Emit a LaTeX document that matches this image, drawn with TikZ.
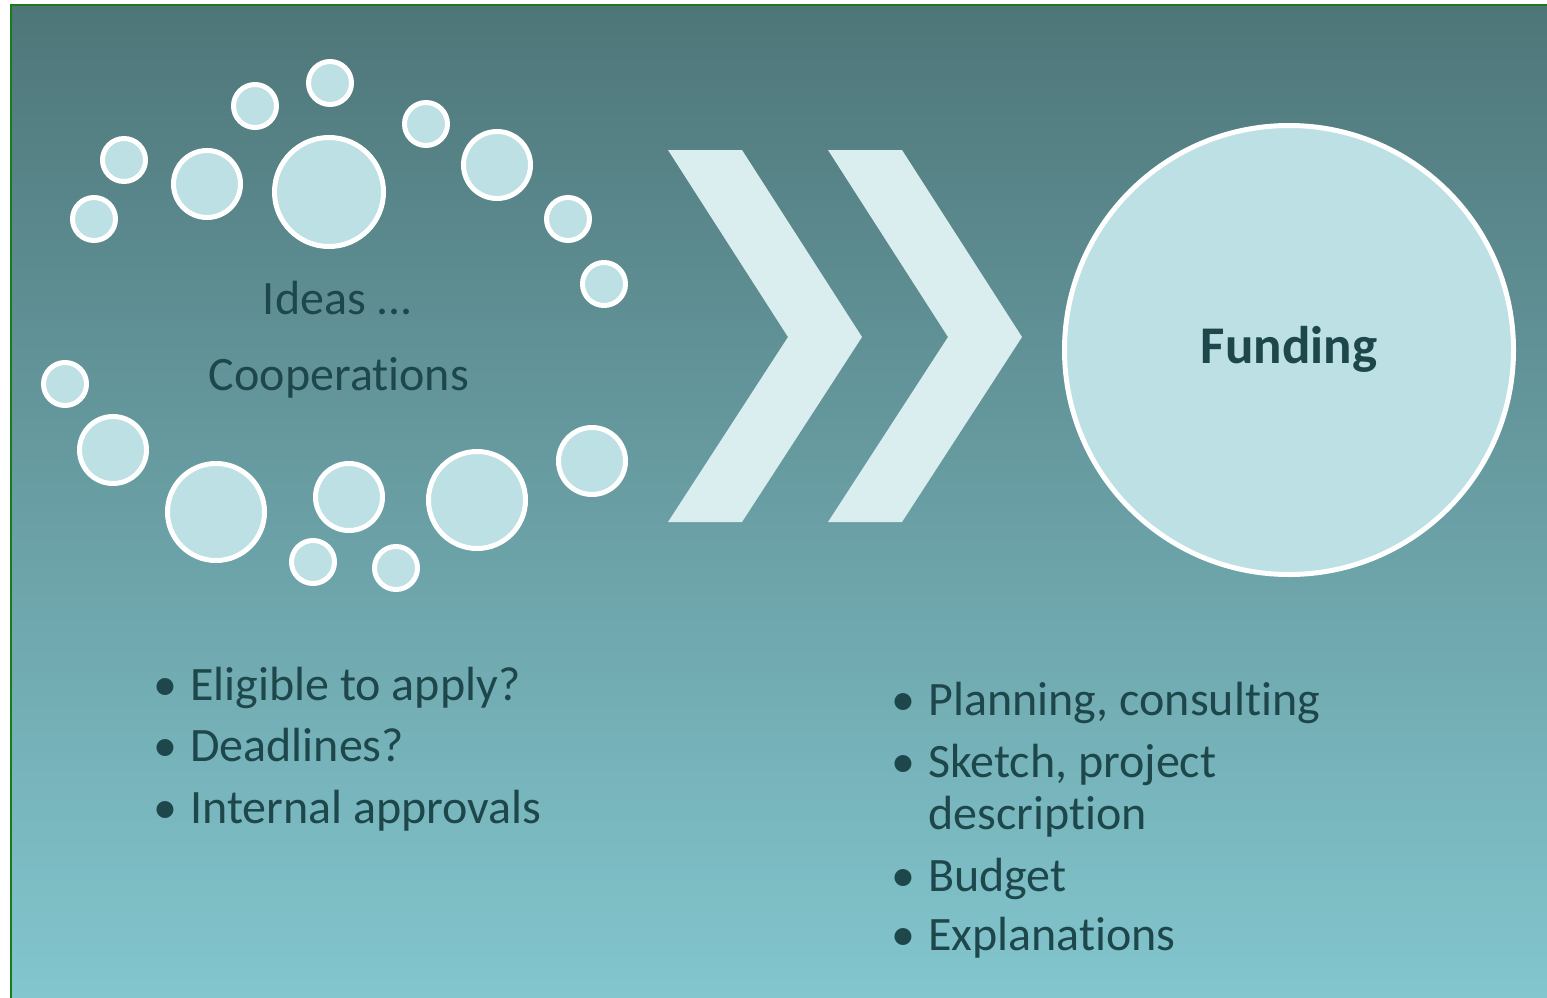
\documentclass[tikz,border=0pt]{standalone}
\usepackage{fontspec}
\setmainfont{Carlito}[Ligatures=NoCommon]
\definecolor{bgtop}{HTML}{4E7679}
\definecolor{bgbot}{HTML}{83C6CE}
\definecolor{bubblefill}{HTML}{BCE0E3}
\definecolor{chevfill}{HTML}{DAEDEF}
\definecolor{textdk}{HTML}{1E474B}
\definecolor{framegreen}{HTML}{1B7A1B}

\tikzset{
  bubble/.style={circle, draw=white, line width=5pt, fill=bubblefill, inner sep=0pt},
  listtxt/.style={anchor=base west, inner sep=0pt, text=textdk, font=\fontsize{48}{56}\selectfont},
  listdot/.style={anchor=base, inner sep=0pt, text=textdk, font=\fontsize{48}{56}\selectfont},
}

\begin{document}
\begin{tikzpicture}[x=1pt,y=-1pt]
  \useasboundingbox (0,0) rectangle (1547,998);

  % Background panel with its green frame
  \fill[white] (0,0) rectangle (1547,998);
  \shade[top color=bgtop, bottom color=bgbot] (11,5) rectangle (1547,998);
  \draw[framegreen, line width=2pt] (11,998) -- (11,5) -- (1547,5);

  % Bubbles around the ideas
  \foreach \x/\y/\r [count=\i] in {330/83/24, 255/106/24, 426/124/24, 124/160/24,
      207/184/36, 329/192/57, 497/165/36, 94/219/24, 568/219/24, 604/284/24,
      65/384/24, 113/450/36, 216/512/51, 349/497/36, 477/500/51, 592/461/36,
      313/562/24, 396/568/24} {
    \node[bubble, minimum size={2*\r-5}] (b\i) at (\x,\y) {};
  }

  % Ideas text
  \node[anchor=base, inner sep=0pt, text=textdk, font=\fontsize{48}{56}\selectfont] (ideas) at (338,314) {Ideas ...};
  \node[anchor=base, inner sep=0pt, text=textdk, font=\fontsize{48}{56}\selectfont] (coop) at (339,390) {Cooperations};

  % Two chevrons
  \foreach \dx in {0,160} {
    \fill[chevfill] (668+\dx,150) -- (742+\dx,150) -- (862+\dx,337) -- (742+\dx,522)
      -- (668+\dx,522) -- (788+\dx,337) -- cycle;
  }

  % Funding circle
  \node[circle, draw=white, line width=5pt, fill=bubblefill, inner sep=0pt,
    minimum size=449] (funding) at (1289,350) {};
  \node[anchor=base, inner sep=0pt, text=textdk, font=\bfseries\fontsize{53}{60}\selectfont]
    (fundtxt) at (1289,363) {Funding};

  % Left list
  \foreach \t/\y [count=\i] in {Eligible to apply?/700, Deadlines?/761, Internal approvals/823} {
    \node[listdot] (lb\i) at (165,\y) {\textbullet};
    \node[listtxt] (lt\i) at (190,\y) {\t};
  }

  % Right list
  \foreach \t/\y [count=\i] in {{Planning, consulting}/715, {Sketch, project}/777,
      description/829, Budget/891, Explanations/950} {
    \node[listtxt] (rt\i) at (928,\y) {\t};
  }
  \foreach \y [count=\i] in {715,777,891,950} {
    \node[listdot] (rb\i) at (903,\y) {\textbullet};
  }
\end{tikzpicture}
\end{document}
